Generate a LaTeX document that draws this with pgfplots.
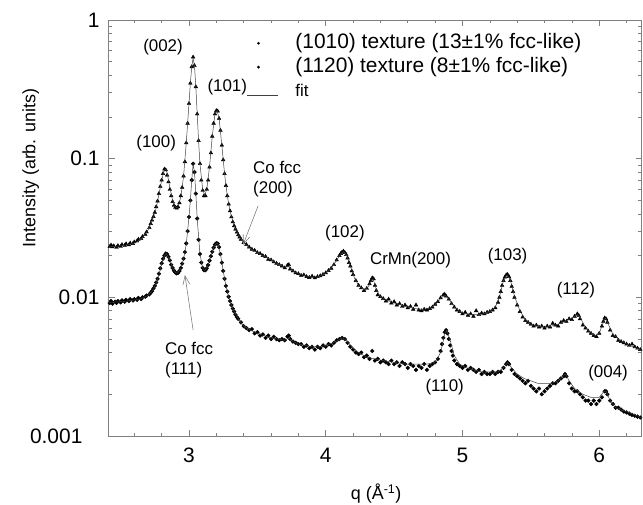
\documentclass[border=0pt]{standalone}
\usepackage{fontspec}
\setmainfont{Liberation Sans}
\usepackage{pgfplots}
\pgfplotsset{compat=1.18}
\usepackage{pgfplotstable}
\usetikzlibrary{arrows.meta}

\pgfplotstableread{
q I
2.42 0.0232
2.43 0.0238
2.44 0.0231
2.45 0.0235
2.47 0.0229
2.48 0.0236
2.50 0.0233
2.51 0.0240
2.53 0.0237
2.54 0.0243
2.56 0.0239
2.57 0.0246
2.59 0.0244
2.60 0.0251
2.62 0.0255
2.63 0.0262
2.65 0.0265
2.66 0.0274
2.68 0.0284
2.69 0.0296
2.71 0.0318
2.72 0.0340
2.73 0.0360
2.74 0.0382
2.75 0.0410
2.76 0.0450
2.77 0.0495
2.78 0.0560
2.79 0.0630
2.80 0.0700
2.81 0.0780
2.82 0.0840
2.83 0.0830
2.84 0.0760
2.85 0.0680
2.86 0.0600
2.87 0.0540
2.88 0.0490
2.89 0.0460
2.90 0.0445
2.91 0.0440
2.92 0.0450
2.93 0.0480
2.94 0.0540
2.95 0.0620
2.96 0.0750
2.97 0.0950
2.98 0.1300
2.99 0.1800
3.00 0.2500
3.01 0.3500
3.02 0.4600
3.03 0.5400
3.04 0.4700
3.05 0.3300
3.06 0.2100
3.07 0.1350
3.08 0.0920
3.09 0.0700
3.10 0.0590
3.11 0.0540
3.12 0.0540
3.13 0.0600
3.14 0.0700
3.15 0.0870
3.16 0.1100
3.17 0.1450
3.18 0.1800
3.19 0.2100
3.20 0.2220
3.21 0.2200
3.22 0.1950
3.23 0.1600
3.24 0.1250
3.25 0.0980
3.26 0.0780
3.27 0.0640
3.28 0.0540
3.29 0.0470
3.30 0.0420
3.31 0.0380
3.32 0.0350
3.33 0.0328
3.34 0.0310
3.35 0.0295
3.36 0.0282
3.37 0.0272
3.38 0.0262
3.40 0.0248
3.42 0.0240
3.44 0.0230
3.46 0.0222
3.48 0.0218
3.50 0.0210
3.52 0.0207
3.54 0.0200
3.56 0.0197
3.58 0.0188
3.60 0.0186
3.62 0.0180
3.64 0.0176
3.66 0.0172
3.68 0.0168
3.70 0.0163
3.72 0.0170
3.73 0.0172
3.74 0.0160
3.76 0.0155
3.78 0.0150
3.80 0.0148
3.82 0.0144
3.84 0.0145
3.86 0.0141
3.88 0.0139
3.90 0.0142
3.92 0.0138
3.94 0.0141
3.96 0.0143
3.98 0.0146
4.00 0.0150
4.02 0.0156
4.04 0.0162
4.06 0.0172
4.08 0.0186
4.10 0.0200
4.11 0.0207
4.12 0.0212
4.13 0.0215
4.14 0.0210
4.15 0.0203
4.16 0.0192
4.17 0.0178
4.18 0.0168
4.19 0.0155
4.20 0.0146
4.22 0.0132
4.24 0.0122
4.26 0.0117
4.28 0.0112
4.30 0.0116
4.32 0.0125
4.33 0.0132
4.34 0.0138
4.35 0.0136
4.36 0.0122
4.37 0.0112
4.38 0.0104
4.40 0.0101
4.42 0.0098
4.44 0.0094
4.46 0.0097
4.48 0.0091
4.50 0.0093
4.52 0.0088
4.54 0.0090
4.56 0.0086
4.58 0.0088
4.60 0.0084
4.62 0.0086
4.64 0.0082
4.66 0.0088
4.68 0.0081
4.70 0.0080
4.72 0.0082
4.74 0.0081
4.76 0.0083
4.78 0.0085
4.80 0.0089
4.82 0.0093
4.84 0.0099
4.86 0.0104
4.87 0.0105
4.88 0.0102
4.90 0.0097
4.92 0.0090
4.94 0.0085
4.96 0.0081
4.98 0.0079
5.00 0.0076
5.02 0.0078
5.04 0.0074
5.06 0.0076
5.08 0.0073
5.10 0.0080
5.12 0.0075
5.14 0.0077
5.16 0.0076
5.18 0.0078
5.20 0.0079
5.22 0.0081
5.24 0.0084
5.26 0.0092
5.27 0.0100
5.28 0.0110
5.29 0.0122
5.30 0.0132
5.31 0.0140
5.32 0.0145
5.33 0.0146
5.34 0.0141
5.35 0.0132
5.36 0.0120
5.37 0.0110
5.38 0.0100
5.40 0.0088
5.42 0.0079
5.44 0.0072
5.46 0.0068
5.48 0.0066
5.50 0.0064
5.52 0.0062
5.54 0.0063
5.56 0.0061
5.58 0.0062
5.60 0.0060
5.62 0.0062
5.64 0.0061
5.66 0.0065
5.68 0.0063
5.70 0.0062
5.72 0.0066
5.74 0.0068
5.76 0.0067
5.78 0.0070
5.80 0.0069
5.82 0.0073
5.84 0.0076
5.85 0.0074
5.86 0.0070
5.88 0.0063
5.90 0.0060
5.92 0.0057
5.94 0.0055
5.96 0.0053
5.98 0.0052
6.00 0.0055
6.02 0.0062
6.03 0.0067
6.04 0.0071
6.05 0.0070
6.06 0.0066
6.08 0.0058
6.10 0.0053
6.12 0.0052
6.14 0.0049
6.16 0.0048
6.18 0.0047
6.20 0.0046
6.22 0.0045
6.24 0.0046
6.26 0.0044
6.28 0.0043
6.30 0.0042
}\upperdata

\pgfplotstableread{
q I
2.42 0.0091
2.43 0.0094
2.44 0.0090
2.46 0.0093
2.47 0.0091
2.48 0.0094
2.50 0.0092
2.51 0.0095
2.53 0.0093
2.54 0.0096
2.56 0.0094
2.57 0.0097
2.59 0.0095
2.60 0.0097
2.62 0.0096
2.63 0.0099
2.65 0.0097
2.66 0.0100
2.68 0.0101
2.69 0.0103
2.71 0.0105
2.72 0.0108
2.73 0.0111
2.74 0.0116
2.75 0.0121
2.76 0.0128
2.77 0.0136
2.78 0.0148
2.79 0.0162
2.80 0.0176
2.81 0.0190
2.82 0.0200
2.83 0.0207
2.84 0.0205
2.85 0.0196
2.86 0.0185
2.87 0.0172
2.88 0.0163
2.89 0.0156
2.90 0.0151
2.91 0.0149
2.92 0.0150
2.93 0.0155
2.94 0.0163
2.95 0.0175
2.96 0.0190
2.97 0.0212
2.98 0.0245
2.99 0.0300
3.00 0.0380
3.01 0.0500
3.02 0.0700
3.03 0.0920
3.04 0.0800
3.05 0.0560
3.06 0.0370
3.07 0.0260
3.08 0.0205
3.09 0.0178
3.10 0.0163
3.11 0.0157
3.12 0.0157
3.13 0.0162
3.14 0.0171
3.15 0.0184
3.16 0.0198
3.17 0.0213
3.18 0.0228
3.19 0.0240
3.20 0.0246
3.21 0.0244
3.22 0.0230
3.23 0.0205
3.24 0.0178
3.25 0.0155
3.26 0.0136
3.27 0.0121
3.28 0.0110
3.29 0.0101
3.30 0.0094
3.31 0.0088
3.32 0.0083
3.33 0.0079
3.34 0.0075
3.35 0.0072
3.36 0.0070
3.38 0.0066
3.40 0.0062
3.42 0.0060
3.44 0.0058
3.46 0.0059
3.48 0.0055
3.50 0.0056
3.52 0.0053
3.54 0.0054
3.56 0.0051
3.58 0.0053
3.60 0.0050
3.62 0.0052
3.64 0.0050
3.66 0.0049
3.68 0.0050
3.70 0.0049
3.72 0.0052
3.73 0.0053
3.74 0.0050
3.76 0.0048
3.78 0.0047
3.80 0.0046
3.82 0.0046
3.84 0.0044
3.86 0.0045
3.88 0.0043
3.90 0.0044
3.92 0.0042
3.94 0.0044
3.96 0.0043
3.98 0.0045
4.00 0.0044
4.02 0.0046
4.04 0.0045
4.06 0.0047
4.08 0.0049
4.10 0.0050
4.12 0.0051
4.14 0.0050
4.16 0.0047
4.18 0.0044
4.20 0.0042
4.22 0.0040
4.24 0.0039
4.26 0.0040
4.28 0.0037
4.30 0.0038
4.32 0.0036
4.34 0.0041
4.36 0.0035
4.38 0.0036
4.40 0.0034
4.42 0.0035
4.44 0.0034
4.46 0.0033
4.48 0.0035
4.50 0.0033
4.52 0.0034
4.54 0.0032
4.56 0.0034
4.58 0.0033
4.60 0.0031
4.62 0.0033
4.64 0.0032
4.66 0.0030
4.68 0.0032
4.70 0.0031
4.72 0.0033
4.74 0.0030
4.76 0.0032
4.78 0.0033
4.80 0.0034
4.82 0.0036
4.84 0.0041
4.85 0.0046
4.86 0.0051
4.87 0.0056
4.88 0.0058
4.89 0.0055
4.90 0.0050
4.91 0.0045
4.92 0.0041
4.93 0.0038
4.94 0.0035
4.96 0.0033
4.98 0.0032
5.00 0.0031
5.02 0.0032
5.04 0.0030
5.06 0.0031
5.08 0.0030
5.10 0.0029
5.12 0.0030
5.14 0.0028
5.16 0.0029
5.18 0.0028
5.20 0.0028
5.22 0.0029
5.24 0.0028
5.26 0.0029
5.28 0.0029
5.30 0.0031
5.32 0.0033
5.33 0.0034
5.34 0.0033
5.36 0.0030
5.38 0.0028
5.40 0.0027
5.42 0.0026
5.44 0.0025
5.46 0.0024
5.48 0.0025
5.50 0.0023
5.52 0.0022
5.54 0.0021
5.56 0.0022
5.58 0.0020
5.60 0.0021
5.62 0.0022
5.64 0.0023
5.66 0.0024
5.68 0.0024
5.70 0.0025
5.72 0.0026
5.74 0.0027
5.75 0.0028
5.76 0.0027
5.78 0.0024
5.80 0.0022
5.82 0.0021
5.84 0.0021
5.86 0.0020
5.88 0.0019
5.90 0.0018
5.92 0.0018
5.94 0.0017
5.96 0.0018
5.98 0.0017
6.00 0.0018
6.02 0.0019
6.04 0.0021
6.05 0.0021
6.06 0.0020
6.08 0.0018
6.10 0.0017
6.12 0.0016
6.14 0.0016
6.16 0.00155
6.18 0.00150
6.20 0.00148
6.22 0.00145
6.24 0.00142
6.26 0.00140
6.28 0.00138
6.30 0.00136
}\lowerdata

\pgfplotstableread{
q I
2.41 0.0234
2.46 0.0233
2.50 0.0235
2.54 0.0238
2.58 0.0243
2.62 0.0252
2.66 0.0270
2.70 0.0305
2.73 0.0355
2.76 0.0440
2.78 0.0550
2.80 0.0700
2.82 0.0830
2.83 0.0840
2.84 0.0790
2.86 0.0620
2.88 0.0500
2.90 0.0450
2.91 0.0442
2.92 0.0450
2.94 0.0530
2.96 0.0740
2.98 0.1300
3.00 0.2500
3.01 0.3500
3.02 0.4600
3.03 0.5300
3.04 0.4700
3.05 0.3300
3.06 0.2100
3.07 0.1350
3.08 0.0920
3.10 0.0600
3.115 0.0545
3.13 0.0600
3.15 0.0870
3.17 0.1450
3.19 0.2100
3.205 0.2230
3.22 0.1950
3.24 0.1250
3.26 0.0780
3.28 0.0540
3.30 0.0420
3.33 0.0328
3.36 0.0282
3.40 0.0247
3.45 0.0224
3.50 0.0210
3.55 0.0198
3.60 0.0186
3.65 0.0174
3.70 0.0165
3.73 0.0166
3.76 0.0155
3.80 0.0148
3.85 0.0143
3.90 0.0140
3.95 0.0141
4.00 0.0149
4.04 0.0162
4.08 0.0185
4.11 0.0206
4.13 0.0214
4.15 0.0204
4.18 0.0168
4.21 0.0138
4.24 0.0122
4.28 0.0113
4.31 0.0119
4.345 0.0137
4.37 0.0114
4.40 0.0101
4.45 0.0095
4.50 0.0091
4.55 0.0088
4.60 0.0085
4.65 0.0083
4.70 0.0082
4.75 0.0083
4.80 0.0088
4.84 0.0098
4.87 0.0104
4.90 0.0097
4.94 0.0085
4.98 0.0079
5.02 0.0076
5.06 0.0075
5.10 0.0075
5.15 0.0076
5.20 0.0079
5.24 0.0085
5.27 0.0100
5.30 0.0132
5.325 0.0145
5.35 0.0134
5.38 0.0102
5.42 0.0080
5.46 0.0069
5.50 0.0064
5.55 0.0062
5.60 0.0061
5.65 0.0062
5.70 0.0064
5.75 0.0067
5.80 0.0071
5.84 0.0075
5.86 0.0072
5.89 0.0063
5.93 0.0056
5.97 0.0053
6.00 0.0055
6.03 0.0066
6.045 0.0071
6.07 0.0063
6.10 0.0054
6.15 0.0049
6.20 0.0046
6.25 0.0044
6.32 0.0041
}\upperfit

\pgfplotstableread{
q I
2.41 0.0092
2.50 0.0093
2.58 0.0095
2.64 0.0097
2.70 0.0103
2.74 0.0114
2.77 0.0134
2.80 0.0174
2.82 0.0199
2.835 0.0207
2.86 0.0186
2.88 0.0163
2.90 0.0151
2.915 0.0149
2.94 0.0162
2.96 0.0188
2.98 0.0242
3.00 0.0380
3.01 0.0500
3.02 0.0700
3.03 0.0910
3.04 0.0800
3.05 0.0560
3.06 0.0370
3.08 0.0205
3.10 0.0163
3.115 0.0156
3.14 0.0171
3.16 0.0198
3.18 0.0228
3.20 0.0246
3.21 0.0244
3.23 0.0205
3.25 0.0155
3.27 0.0121
3.29 0.0101
3.31 0.0088
3.33 0.0079
3.36 0.0070
3.40 0.0062
3.45 0.0058
3.50 0.0055
3.55 0.0053
3.60 0.0051
3.65 0.0050
3.70 0.0049
3.73 0.0051
3.76 0.0048
3.80 0.0046
3.85 0.0045
3.90 0.0044
3.95 0.0044
4.00 0.0045
4.05 0.0047
4.09 0.0049
4.12 0.0051
4.15 0.0049
4.19 0.0044
4.24 0.0040
4.30 0.0037
4.36 0.0036
4.42 0.0035
4.50 0.0034
4.58 0.0033
4.66 0.0033
4.74 0.0033
4.80 0.0034
4.84 0.0040
4.87 0.0054
4.885 0.0058
4.91 0.0049
4.94 0.0038
4.98 0.0033
5.03 0.0031
5.08 0.0030
5.14 0.0029
5.20 0.0029
5.26 0.0029
5.30 0.0031
5.33 0.0034
5.36 0.0031
5.40 0.0028
5.45 0.0026
5.50 0.0025
5.55 0.0024
5.60 0.0024
5.65 0.0024
5.70 0.0025
5.735 0.0027
5.755 0.0028
5.78 0.0025
5.82 0.0022
5.88 0.0020
5.94 0.0019
6.00 0.0019
6.035 0.0021
6.05 0.0021
6.08 0.0018
6.12 0.0016
6.18 0.00152
6.24 0.00145
6.32 0.00134
}\lowerfit

\newcommand{\annot}{\fontsize{17}{20}\selectfont}

\begin{document}
\begin{tikzpicture}
\useasboundingbox (-108.6bp,-69bp) rectangle (534.4bp,436bp);
\begin{axis}[
  at={(0,0)}, anchor=south west,
  scale only axis, width=533bp, height=416bp,
  xmin=2.412, xmax=6.31, ymin=0.001, ymax=1,
  ymode=log,
  clip mode=individual,
  xtick={3,4,5,6},
  minor xtick={2.6,2.8,3.2,3.4,3.6,3.8,4.2,4.4,4.6,4.8,5.2,5.4,5.6,5.8,6.2},
  ytick={0.001,0.01,0.1,1},
  yticklabels={0.001\hspace*{17bp},0.01,0.1,1},
  tick align=inside,
  major tick length=6bp, minor tick length=3.5bp,
  axis line style={gray, line width=0.9bp},
  every tick/.style={gray, line width=0.6bp},
  /pgf/number format/assume math mode=true,
  tick label style={font=\fontsize{21}{24}\selectfont, black},
  xticklabel style={anchor=center, yshift=-19bp},
  yticklabel style={anchor=east, xshift=-9bp, inner sep=0pt},
  xlabel={q (Å\textsuperscript{-1})},
  xlabel style={at={(axis description cs:0.502,-0.139)}, anchor=center, font=\fontsize{18}{21}\selectfont},
  ylabel={Intensity (arb. units)},
  ylabel style={at={(axis description cs:-0.146,0.644)}, anchor=center, font=\fontsize{18}{21}\selectfont},
  legend cell align=left,
  legend style={at={(axis description cs:0.2597,0.9736)}, anchor=north west,
    draw=none, fill=none, inner sep=0pt, row sep=0bp,
    nodes={inner sep=2bp, text height=15bp, text depth=5bp, anchor=west},
    font=\fontsize{21}{24}\selectfont},
]
\addplot[only marks, mark=triangle*, mark size=2.1bp, black,
  legend image code/.code={\path[draw=none,fill=none] (0bp,-1bp) rectangle (46bp,1bp);
    \fill[black] (11bp,0bp) circle[radius=1.1bp];}]
  table[x=q, y=I] {\upperdata};
\addlegendentry{(1010) texture (13±1\% fcc-like)}
\addplot[only marks, mark=*, mark size=1.9bp, black,
  legend image code/.code={\path[draw=none,fill=none] (0bp,-1bp) rectangle (46bp,1bp);
    \fill[black] (11bp,0bp) circle[radius=1.2bp];}]
  table[x=q, y=I] {\lowerdata};
\addlegendentry{(1120) texture (8±1\% fcc-like)}
\addplot[no marks, line width=0.5bp, black!75,
  legend image code/.code={\path[draw=none,fill=none] (0bp,-1bp) rectangle (46bp,1bp);
    \draw[black!75, line width=0.5bp] (0bp,-4bp) -- (31bp,-4bp);}]
  table[x=q, y=I] {\upperfit};
\addlegendentry{\fontsize{17}{20}\selectfont fit}
\addplot[no marks, line width=0.5bp, black!75, forget plot]
  table[x=q, y=I] {\lowerfit};

\node[font=\annot] at (axis cs:2.81,0.64) {(002)};
\node[font=\annot] at (axis cs:3.28,0.33) {(101)};
\node[font=\annot] at (axis cs:2.76,0.13) {(100)};
\node[font=\annot, align=left, anchor=west, inner sep=0pt] at (axis cs:3.468,0.0714) {Co fcc\\(200)};
\node[font=\annot] at (axis cs:4.14,0.0291) {(102)};
\node[font=\annot] at (axis cs:4.62,0.0186) {CrMn(200)};
\node[font=\annot] at (axis cs:5.33,0.0199) {(103)};
\node[font=\annot] at (axis cs:5.83,0.0113) {(112)};
\node[font=\annot] at (axis cs:6.065,0.00285) {(004)};
\node[font=\annot] at (axis cs:4.87,0.00226) {(110)};
\node[font=\annot, align=left, anchor=west, inner sep=0pt] at (axis cs:2.824,0.00354) {Co fcc\\(111)};
\draw[gray, line width=0.6bp, -{Straight Barb[length=9bp,width=7bp]}]
  (axis cs:3.505,0.0456) -- (axis cs:3.395,0.0239);
\draw[gray, line width=0.6bp, -{Straight Barb[length=9bp,width=7bp]}]
  (axis cs:3.03,0.00582) -- (axis cs:2.97,0.0145);
\end{axis}
\end{tikzpicture}
\end{document}
